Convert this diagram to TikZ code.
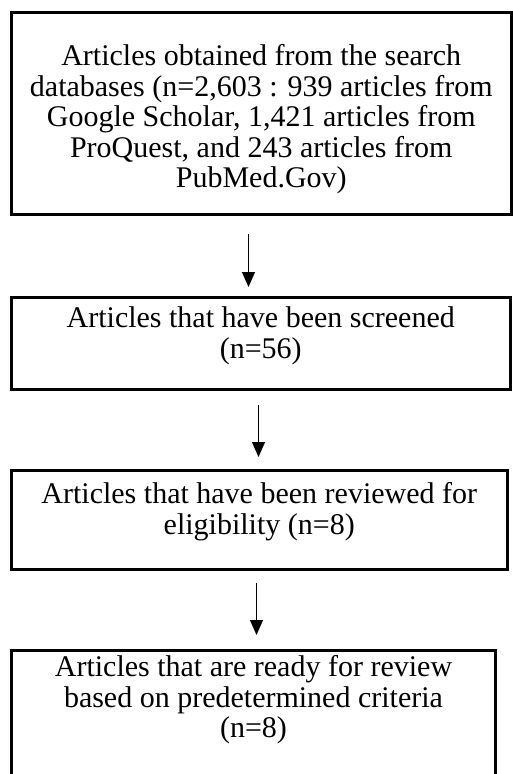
\documentclass[tikz,border=0pt]{standalone}
\usepackage{fontspec}
\setmainfont{Liberation Serif}
\usetikzlibrary{arrows.meta}
\newcommand{\boxtext}[4]{\parbox[c][#2][t]{#1}{\centering\rule{0pt}{#3}\ignorespaces#4}}
\begin{document}
\begin{tikzpicture}[x=1pt,y=-1pt,
  flowbox/.style={draw=black,line width=3pt,rectangle,inner sep=0pt,anchor=north west,
    font=\fontsize{30}{30.6}\selectfont},
  arr/.style={draw=black,line width=1.2pt,-{Triangle[length=15pt,width=13pt]}}]
\useasboundingbox[fill=white] (0,0) rectangle (512,774);
\node[flowbox] (b1) at (9.5,11) {\boxtext{500.5pt}{202pt}{53pt}{Articles obtained from the search\\
databases (n=2,603 : 939 articles from\\
Google Scholar, 1,421 articles from\\
ProQuest, and 243 articles from\\
PubMed.Gov)}};
\node[flowbox] (b2) at (9.5,296) {\boxtext{499.5pt}{92pt}{30pt}{Articles that have been screened\\
(n=56)}};
\node[flowbox] (b3) at (9.5,469) {\boxtext{496.5pt}{99pt}{33pt}{Articles that have been reviewed for\\
eligibility (n=8)}};
\node[flowbox] (b4) at (10,649) {\boxtext{484pt}{140pt}{26pt}{Articles that are ready for review\\
based on predetermined criteria\\
(n=8)}};
\draw[arr] ([xshift=-12.75pt,yshift=-18pt]b1.south) -- ([xshift=-12.25pt,yshift=9pt]b2.north);
\draw[arr] ([xshift=-2.25pt,yshift=-14pt]b2.south) -- ([xshift=-0.75pt,yshift=12pt]b3.north);
\draw[arr] ([xshift=-2.75pt,yshift=-12pt]b3.south) -- ([xshift=3pt,yshift=14pt]b4.north);
\end{tikzpicture}
\end{document}
